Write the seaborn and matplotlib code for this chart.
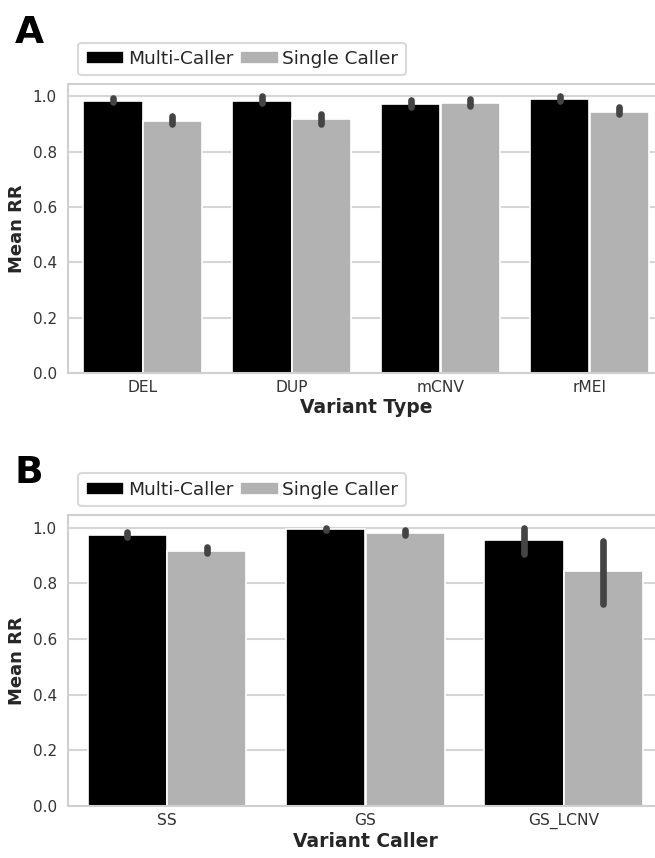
import numpy as np
import pandas as pd
import matplotlib
matplotlib.use("Agg")
import matplotlib.pyplot as plt
import seaborn as sns

# ---- data ----
groups = ["Multi-Caller", "Single Caller"]

types_a = ["DEL", "DUP", "mCNV", "rMEI"]
multi_a = [0.985, 0.985, 0.972, 0.990]
single_a = [0.910, 0.918, 0.978, 0.945]
multi_a_lo = [0.980, 0.975, 0.962, 0.982]
multi_a_hi = [0.995, 1.000, 0.988, 1.000]
single_a_lo = [0.900, 0.902, 0.966, 0.938]
single_a_hi = [0.928, 0.938, 0.990, 0.962]

callers_b = ["SS", "GS", "GS_LCNV"]
multi_b = [0.972, 0.995, 0.955]
single_b = [0.915, 0.980, 0.845]
multi_b_lo = [0.965, 0.992, 0.905]
multi_b_hi = [0.985, 1.000, 1.000]
single_b_lo = [0.908, 0.972, 0.725]
single_b_hi = [0.930, 0.992, 0.950]

palette = ["#000000", "#b2b2b2"]
err_color = "#444444"

sns.set_theme(style="whitegrid")
plt.rcParams.update({
    "font.family": ["DejaVu Sans"],
    "axes.edgecolor": "#d0d0d0",
    "axes.linewidth": 1.5,
    "grid.color": "#d6d6d6",
    "grid.linewidth": 1.5,
    "xtick.labelsize": 11.2,
    "ytick.labelsize": 11,
    "xtick.color": "#333333",
    "ytick.color": "#333333",
    "axes.labelcolor": "#262626",
})

fig = plt.figure(figsize=(6.55, 8.58), dpi=100)

def panel(rect, cats, mvals, svals, mlo, mhi, slo, shi, xlabel, letter, letter_y):
    ax = fig.add_axes(rect)
    df = pd.DataFrame({
        "cat": cats * 2,
        "grp": [groups[0]] * len(cats) + [groups[1]] * len(cats),
        "val": mvals + svals,
    })
    sns.barplot(data=df, x="cat", y="val", hue="grp", order=cats, hue_order=groups,
                palette=palette, errorbar=None, ax=ax, saturation=1,
                edgecolor="white", linewidth=1.2)
    los = [mlo, slo]
    his = [mhi, shi]
    for ci, cont in enumerate(ax.containers):
        for bi, bar in enumerate(cont):
            xc = bar.get_x() + bar.get_width() / 2
            ax.plot([xc, xc], [los[ci][bi], his[ci][bi]], color=err_color, lw=4.8,
                    solid_capstyle="round", zorder=5)
    ax.set_ylim(0, 1.045)
    ax.set_yticks([0, 0.2, 0.4, 0.6, 0.8, 1.0])
    ax.set_yticklabels(["0.0", "0.2", "0.4", "0.6", "0.8", "1.0"])
    ax.set_xlim(-0.5, len(cats) - 0.5)
    ax.set_xlabel(xlabel, fontsize=13.5, fontweight="bold", labelpad=2)
    ax.set_ylabel("Mean RR", fontsize=13, fontweight="bold", labelpad=5)
    ax.tick_params(axis="y", pad=8, length=0)
    ax.tick_params(axis="x", pad=5, length=0)
    ax.grid(axis="x", visible=False)
    ax.set_axisbelow(True)
    sns.move_legend(ax, "lower left", bbox_to_anchor=(0.017, 1.03), ncol=2,
                    title=None, frameon=True, fontsize=13.3, borderaxespad=0,
                    columnspacing=0.35, handletextpad=0.2, handlelength=2.1,
                    borderpad=0.4)
    leg = ax.get_legend()
    leg.get_frame().set_edgecolor("#d0d0d0")
    leg.get_frame().set_linewidth(1.5)
    for t in leg.get_texts():
        t.set_color("#262626")
    fig.text(15 / 655, letter_y, letter, fontsize=27, fontweight="heavy",
             ha="left", va="top", color="black")
    return ax

panel([68 / 655, 1 - 373 / 858, 596 / 655, 289 / 858], types_a, multi_a, single_a,
      multi_a_lo, multi_a_hi, single_a_lo, single_a_hi, "Variant Type", "A", 1 - 15 / 858)
panel([68 / 655, 1 - 806 / 858, 595 / 655, 291 / 858], callers_b, multi_b, single_b,
      multi_b_lo, multi_b_hi, single_b_lo, single_b_hi, "Variant Caller", "B", 1 - 455 / 858)

fig.savefig("out.png", dpi=100)
